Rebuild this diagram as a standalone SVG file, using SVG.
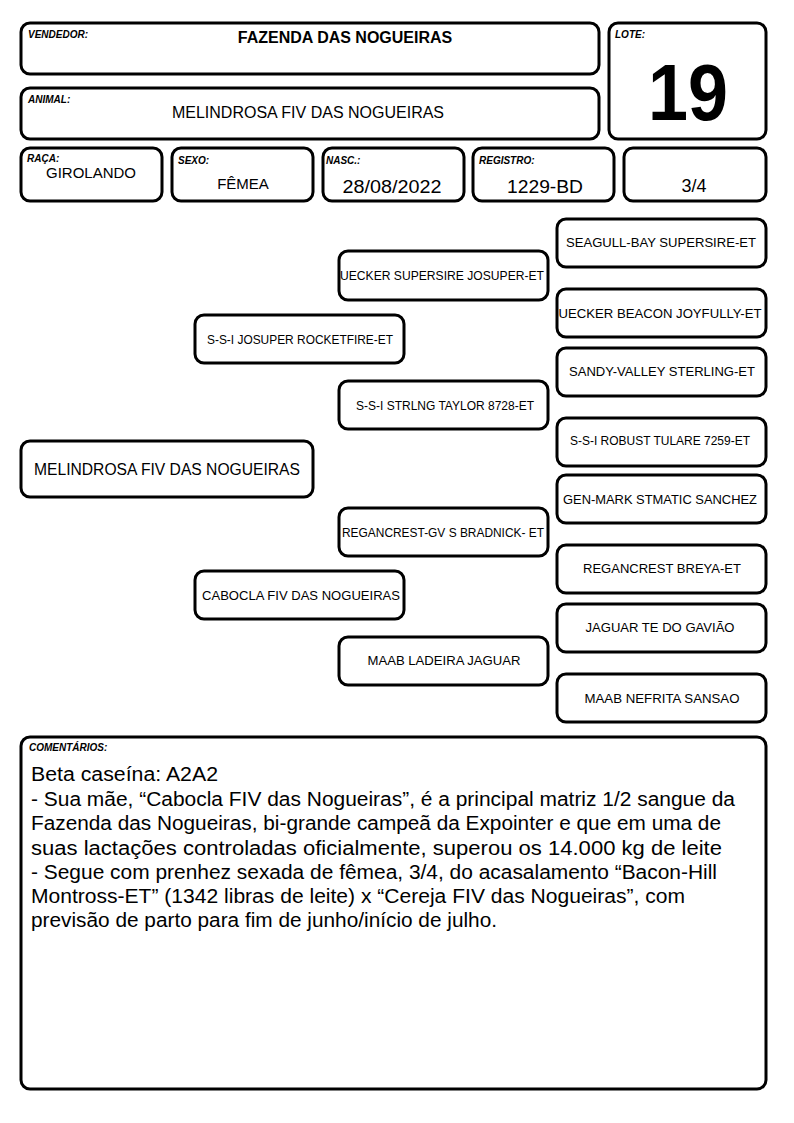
<svg xmlns="http://www.w3.org/2000/svg" width="794" height="1123" viewBox="0 0 794 1123">
<style>
.b{fill:#fff;stroke:#000;stroke-width:3}
.lbl{font-family:"Liberation Sans",Arial,sans-serif;font-size:10px;font-weight:bold;font-style:italic}
.t{font-family:"Liberation Sans",Arial,sans-serif;fill:#000}
.p{font-family:"Liberation Sans",Arial,sans-serif;font-size:13px;text-anchor:middle}
.c{font-family:"Liberation Sans",Arial,sans-serif;font-size:20px}
</style>
<rect width="794" height="1123" fill="#fff"/>
<g id="vendedor">
<rect class="b" x="21" y="23" width="578" height="51" rx="9"/>
<text class="lbl" x="28" y="38">VENDEDOR:</text>
<text class="t" x="345" y="43" font-size="16" font-weight="bold" text-anchor="middle">FAZENDA DAS NOGUEIRAS</text>
</g>
<g id="lote">
<rect class="b" x="609" y="23" width="157" height="116" rx="9"/>
<text class="lbl" x="615" y="38">LOTE:</text>
<text class="t" x="688" y="120" font-size="79" font-weight="bold" text-anchor="middle" textLength="80" lengthAdjust="spacingAndGlyphs">19</text>
</g>
<g id="animal">
<rect class="b" x="21" y="88" width="578" height="51" rx="9"/>
<text class="lbl" x="28" y="103">ANIMAL:</text>
<text class="t" x="308" y="118" font-size="16" text-anchor="middle">MELINDROSA FIV DAS NOGUEIRAS</text>
</g>
<g id="raca">
<rect class="b" x="21" y="148" width="141" height="53" rx="9"/>
<text class="lbl" x="27" y="162">RAÇA:</text>
<text class="t" x="91" y="178" font-size="15" text-anchor="middle">GIROLANDO</text>
</g>
<g id="sexo">
<rect class="b" x="172" y="148" width="141" height="53" rx="9"/>
<text class="lbl" x="178" y="164">SEXO:</text>
<text class="t" x="243" y="189" font-size="15" text-anchor="middle">FÊMEA</text>
</g>
<g id="nasc">
<rect class="b" x="323" y="148" width="141" height="53" rx="9"/>
<text class="lbl" x="326" y="164">NASC.:</text>
<text class="t" x="392" y="193" font-size="18" text-anchor="middle" textLength="99" lengthAdjust="spacingAndGlyphs">28/08/2022</text>
</g>
<g id="registro">
<rect class="b" x="473" y="148" width="141" height="53" rx="9"/>
<text class="lbl" x="479" y="164">REGISTRO:</text>
<text class="t" x="545" y="193" font-size="18" text-anchor="middle" textLength="76" lengthAdjust="spacingAndGlyphs">1229-BD</text>
</g>
<g id="grau">
<rect class="b" x="624" y="148" width="142" height="53" rx="9"/>
<text class="t" x="694" y="192" font-size="18" text-anchor="middle">3/4</text>
</g>
<g id="connectors"></g>
<g id="melindrosa">
<rect class="b" x="21" y="441" width="292" height="56" rx="9"/>
<text class="t" x="167" y="475" font-size="16" text-anchor="middle" textLength="266" lengthAdjust="spacingAndGlyphs">MELINDROSA FIV DAS NOGUEIRAS</text>
</g>
<g id="josuper-rocketfire">
<rect class="b" x="195" y="315" width="209" height="48" rx="9"/>
<text class="p" x="300" y="344" textLength="186" lengthAdjust="spacingAndGlyphs">S-S-I JOSUPER ROCKETFIRE-ET</text>
</g>
<g id="cabocla">
<rect class="b" x="195" y="571" width="209" height="48" rx="9"/>
<text class="p" x="301" y="600" textLength="198" lengthAdjust="spacingAndGlyphs">CABOCLA FIV DAS NOGUEIRAS</text>
</g>
<g id="uecker-supersire">
<rect class="b" x="339" y="251" width="209" height="49" rx="9"/>
<text class="p" x="442" y="280" textLength="204" lengthAdjust="spacingAndGlyphs">UECKER SUPERSIRE JOSUPER-ET</text>
</g>
<g id="strlng-taylor">
<rect class="b" x="339" y="381" width="209" height="48" rx="9"/>
<text class="p" x="445" y="410" textLength="178" lengthAdjust="spacingAndGlyphs">S-S-I STRLNG TAYLOR 8728-ET</text>
</g>
<g id="regancrest-bradnick">
<rect class="b" x="339" y="508" width="209" height="48" rx="9"/>
<text class="p" x="443" y="537" textLength="202" lengthAdjust="spacingAndGlyphs">REGANCREST-GV S BRADNICK- ET</text>
</g>
<g id="maab-ladeira">
<rect class="b" x="339" y="637" width="209" height="48" rx="9"/>
<text class="p" x="444" y="665" textLength="153" lengthAdjust="spacingAndGlyphs">MAAB LADEIRA JAGUAR</text>
</g>
<g id="seagull">
<rect class="b" x="557" y="219" width="209" height="48" rx="9"/>
<text class="p" x="661" y="247" textLength="190" lengthAdjust="spacingAndGlyphs">SEAGULL-BAY SUPERSIRE-ET</text>
</g>
<g id="uecker-beacon">
<rect class="b" x="557" y="289" width="209" height="48" rx="9"/>
<text class="p" x="660" y="318" textLength="203" lengthAdjust="spacingAndGlyphs">UECKER BEACON JOYFULLY-ET</text>
</g>
<g id="sandy-valley">
<rect class="b" x="557" y="348" width="209" height="48" rx="9"/>
<text class="p" x="662" y="376" textLength="186" lengthAdjust="spacingAndGlyphs">SANDY-VALLEY STERLING-ET</text>
</g>
<g id="robust-tulare">
<rect class="b" x="557" y="418" width="209" height="48" rx="9"/>
<text class="p" x="660" y="445" textLength="180" lengthAdjust="spacingAndGlyphs">S-S-I ROBUST TULARE 7259-ET</text>
</g>
<g id="gen-mark">
<rect class="b" x="557" y="475" width="209" height="48" rx="9"/>
<text class="p" x="660" y="504" textLength="194" lengthAdjust="spacingAndGlyphs">GEN-MARK STMATIC SANCHEZ</text>
</g>
<g id="regancrest-breya">
<rect class="b" x="557" y="545" width="209" height="48" rx="9"/>
<text class="p" x="662" y="573" textLength="158" lengthAdjust="spacingAndGlyphs">REGANCREST BREYA-ET</text>
</g>
<g id="jaguar-te">
<rect class="b" x="557" y="604" width="209" height="48" rx="9"/>
<text class="p" x="660" y="632" textLength="149" lengthAdjust="spacingAndGlyphs">JAGUAR TE DO GAVIÃO</text>
</g>
<g id="maab-nefrita">
<rect class="b" x="557" y="674" width="209" height="48" rx="9"/>
<text class="p" x="662" y="703" textLength="155" lengthAdjust="spacingAndGlyphs">MAAB NEFRITA SANSAO</text>
</g>
<g id="comentarios">
<rect class="b" x="21" y="737" width="745" height="352" rx="9"/>
<text class="lbl" x="29" y="751">COMENTÁRIOS:</text>
<text class="c" x="31" y="781" textLength="187" lengthAdjust="spacingAndGlyphs">Beta caseína: A2A2</text>
<text class="c" x="31" y="806" textLength="704" lengthAdjust="spacingAndGlyphs">- Sua mãe, “Cabocla FIV das Nogueiras”, é a principal matriz 1/2 sangue da</text>
<text class="c" x="31" y="830" textLength="690" lengthAdjust="spacingAndGlyphs">Fazenda das Nogueiras, bi-grande campeã da Expointer e que em uma de</text>
<text class="c" x="31" y="855" textLength="691" lengthAdjust="spacingAndGlyphs">suas lactações controladas oficialmente, superou os 14.000 kg de leite</text>
<text class="c" x="31" y="879" textLength="686" lengthAdjust="spacingAndGlyphs">- Segue com prenhez sexada de fêmea, 3/4, do acasalamento “Bacon-Hill</text>
<text class="c" x="31" y="903" textLength="654" lengthAdjust="spacingAndGlyphs">Montross-ET” (1342 libras de leite) x “Cereja FIV das Nogueiras”, com</text>
<text class="c" x="31" y="927" textLength="466" lengthAdjust="spacingAndGlyphs">previsão de parto para fim de junho/início de julho.</text>
</g>
</svg>
